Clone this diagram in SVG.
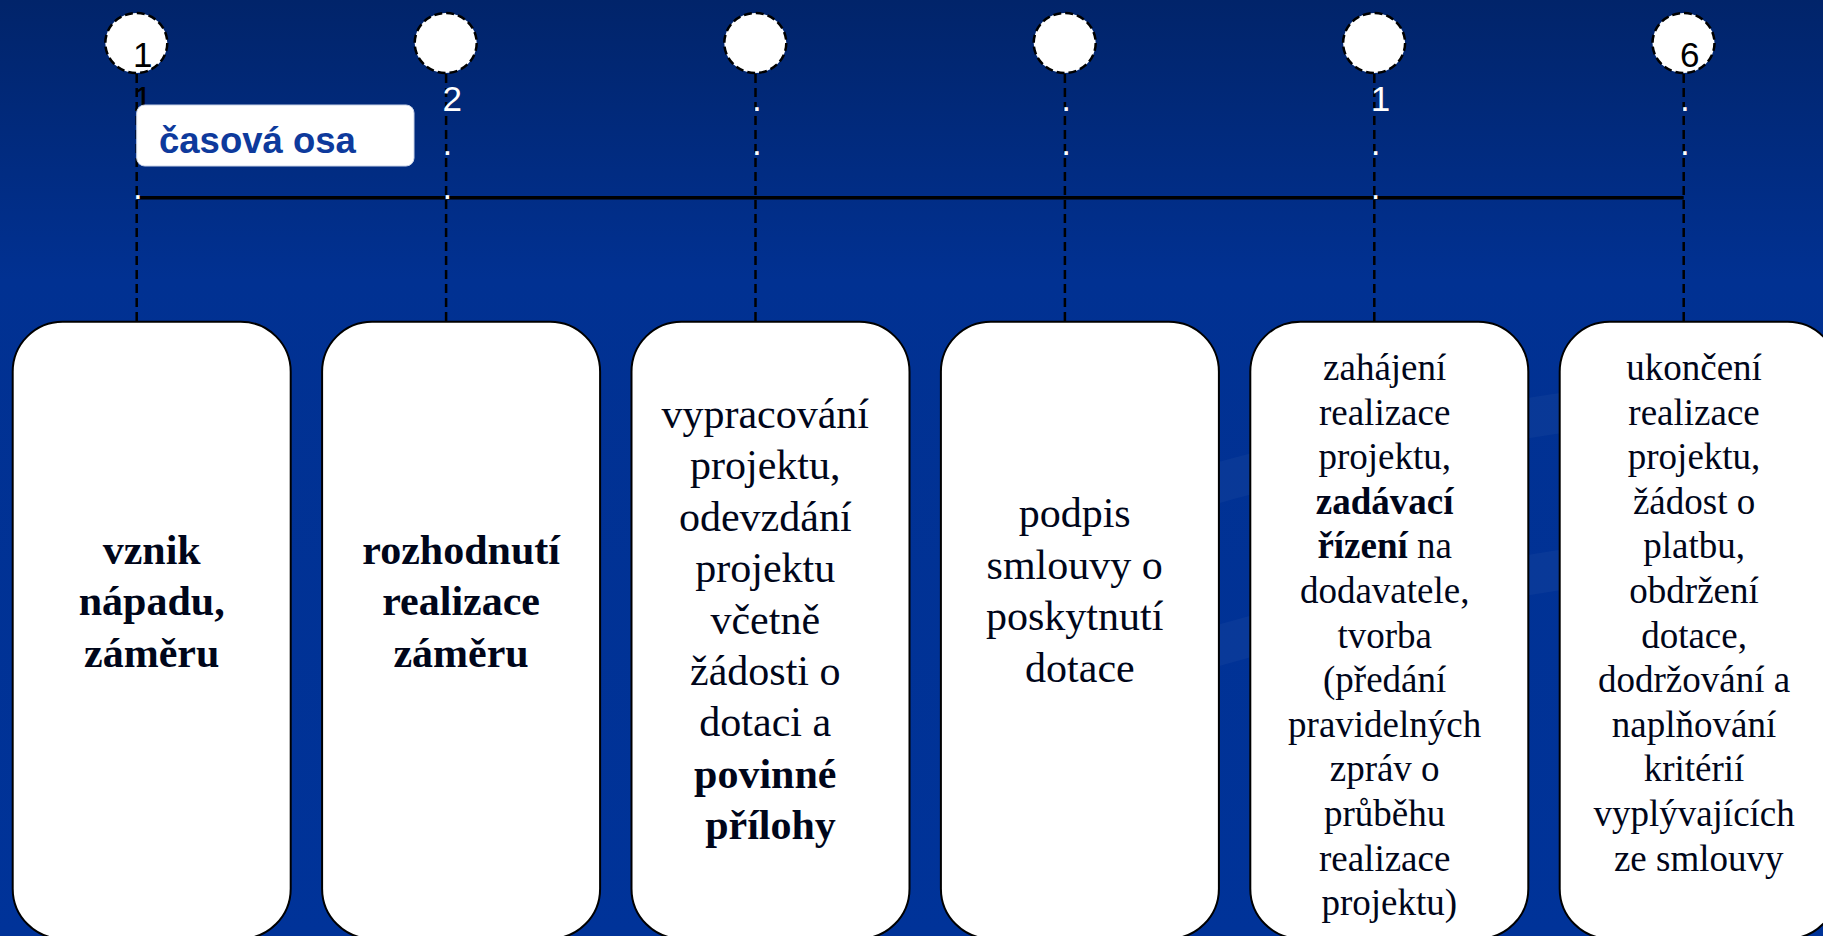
<svg xmlns="http://www.w3.org/2000/svg" width="1823" height="936" viewBox="0 0 1823 936">
  <defs>
    <linearGradient id="bg" x1="0" y1="0" x2="0" y2="1">
      <stop offset="0" stop-color="#01246A"/>
      <stop offset="0.3" stop-color="#013192"/>
      <stop offset="1" stop-color="#003399"/>
    </linearGradient>
    <style>
      .vline { stroke: #000; stroke-width: 2.5; stroke-dasharray: 9 5; fill: none; }
      .axis { stroke: #000; stroke-width: 3.5; fill: none; }
      .dot { fill: #fff; stroke: #000; stroke-width: 2.5; stroke-dasharray: 8 4; }
      .num { font-size: 35px; }
      .box { fill: #fff; stroke: #000; stroke-width: 2; }
      .t42 { font-size: 42px; fill: #00061a; text-anchor: middle; }
      .t37 { font-size: 37px; fill: #00061a; text-anchor: middle; }
      .b { font-weight: bold; }
    </style>
  </defs>

  <rect x="0" y="0" width="1823" height="936" fill="url(#bg)"/>
  <g id="swoosh" fill="none" stroke="#ffffff" stroke-opacity="0.035" stroke-width="40">
    <path d="M1000,560 C1200,470 1450,420 1823,380"/>
    <path d="M1050,700 C1300,610 1550,560 1823,540"/>
  </g>

  <g id="connectors">
    <line class="vline" x1="136.7" y1="74" x2="136.7" y2="321"/>
    <line class="vline" x1="446.1" y1="74" x2="446.1" y2="321"/>
    <line class="vline" x1="755.5" y1="74" x2="755.5" y2="321"/>
    <line class="vline" x1="1064.9" y1="74" x2="1064.9" y2="321"/>
    <line class="vline" x1="1374.3" y1="74" x2="1374.3" y2="321"/>
    <line class="vline" x1="1683.7" y1="74" x2="1683.7" y2="321"/>
    <line class="axis" x1="136.7" y1="197.7" x2="1683.7" y2="197.7"/>
  </g>

  <g id="milestones" style="font-family:'Liberation Sans', Arial, sans-serif">
  <g id="milestone1">
    <ellipse class="dot" cx="136.3" cy="43" rx="31" ry="30"/>
    <text class="num" x="133.1" fill="#000"><tspan y="67">1</tspan><tspan x="133.1" y="111">1</tspan></text>
    <text class="num" x="133.1" y="199" fill="#fff">.</text>
  </g>
  <g id="milestone2">
    <ellipse class="dot" cx="445.7" cy="43" rx="31" ry="30"/>
    <text class="num" fill="#fff"><tspan x="442.5" y="111">2</tspan><tspan x="442.5" y="155">.</tspan><tspan x="442.5" y="199">.</tspan></text>
  </g>
  <g id="milestone3">
    <ellipse class="dot" cx="755.3" cy="43" rx="31" ry="30"/>
    <text class="num" fill="#fff"><tspan x="751.9" y="111">.</tspan><tspan x="751.9" y="155">.</tspan></text>
  </g>
  <g id="milestone4">
    <ellipse class="dot" cx="1064.7" cy="43" rx="31" ry="30"/>
    <text class="num" fill="#fff"><tspan x="1061.3" y="111">.</tspan><tspan x="1061.3" y="155">.</tspan></text>
  </g>
  <g id="milestone5">
    <ellipse class="dot" cx="1374.1" cy="43" rx="31" ry="30"/>
    <text class="num" fill="#fff"><tspan x="1370.7" y="111">1</tspan><tspan x="1370.7" y="155">.</tspan><tspan x="1370.7" y="199">.</tspan></text>
  </g>
  <g id="milestone6">
    <ellipse class="dot" cx="1683.5" cy="43" rx="31" ry="30"/>
    <text class="num" x="1680.1" y="67" fill="#000">6</text>
    <text class="num" fill="#fff"><tspan x="1680.1" y="111">.</tspan><tspan x="1680.1" y="155">.</tspan></text>
  </g>
  </g>

  <g id="label">
    <rect x="136.7" y="105" width="277.3" height="61" rx="8" fill="#fff" stroke="#c9d3e8" stroke-width="1"/>
    <text x="159" y="152.7" style="font-family:'Liberation Sans', Arial, sans-serif" font-size="36.5" font-weight="bold" fill="#0E3A9C">časová osa</text>
  </g>

  <g id="boxes" style="font-family:'Liberation Serif', 'Times New Roman', serif">
  <g id="box1">
    <rect class="box" x="12.7" y="321.7" width="278" height="617" rx="50"/>
    <text class="t42 b"><tspan x="151.7" y="563.5">vznik</tspan><tspan x="151.7" y="615.1">nápadu,</tspan><tspan x="151.7" y="666.7">záměru</tspan></text>
  </g>
  <g id="box2">
    <rect class="box" x="322.1" y="321.7" width="278" height="617" rx="50"/>
    <text class="t42 b"><tspan x="461.1" y="563.5">rozhodnutí</tspan><tspan x="461.1" y="615.1">realizace</tspan><tspan x="461.1" y="666.7">záměru</tspan></text>
  </g>
  <g id="box3">
    <rect class="box" x="631.5" y="321.7" width="278" height="617" rx="50"/>
    <text class="t42">
      <tspan x="770.5" y="428">vypracování</tspan>
      <tspan x="770.5" y="479.4">projektu,</tspan>
      <tspan x="770.5" y="530.8">odevzdání</tspan>
      <tspan x="770.5" y="582.2">projektu</tspan>
      <tspan x="770.5" y="633.6">včetně</tspan>
      <tspan x="770.5" y="685">žádosti o</tspan>
      <tspan x="770.5" y="736.4">dotaci a</tspan>
      <tspan x="770.5" y="787.8" font-weight="bold">povinné</tspan>
      <tspan x="770.5" y="839.2" font-weight="bold">přílohy</tspan>
    </text>
  </g>
  <g id="box4">
    <rect class="box" x="940.9" y="321.7" width="278" height="617" rx="50"/>
    <text class="t42">
      <tspan x="1079.9" y="527">podpis</tspan>
      <tspan x="1079.9" y="578.5">smlouvy o</tspan>
      <tspan x="1079.9" y="630">poskytnutí</tspan>
      <tspan x="1079.9" y="681.5">dotace</tspan>
    </text>
  </g>
  <g id="box5">
    <rect class="box" x="1250.3" y="321.7" width="278" height="617" rx="50"/>
    <text class="t37">
      <tspan x="1389.3" y="380">zahájení</tspan>
      <tspan x="1389.3" y="424.6">realizace</tspan>
      <tspan x="1389.3" y="469.2">projektu,</tspan>
      <tspan x="1389.3" y="513.8" font-weight="bold">zadávací</tspan>
      <tspan x="1389.3" y="558.4"><tspan font-weight="bold">řízení</tspan> na</tspan>
      <tspan x="1389.3" y="603">dodavatele,</tspan>
      <tspan x="1389.3" y="647.6">tvorba</tspan>
      <tspan x="1389.3" y="692.2">(předání</tspan>
      <tspan x="1389.3" y="736.8">pravidelných</tspan>
      <tspan x="1389.3" y="781.4">zpráv o</tspan>
      <tspan x="1389.3" y="826">průběhu</tspan>
      <tspan x="1389.3" y="870.6">realizace</tspan>
      <tspan x="1389.3" y="915.2">projektu)</tspan>
    </text>
  </g>
  <g id="box6">
    <rect class="box" x="1559.7" y="321.7" width="278" height="617" rx="50"/>
    <text class="t37">
      <tspan x="1698.7" y="380">ukončení</tspan>
      <tspan x="1698.7" y="424.6">realizace</tspan>
      <tspan x="1698.7" y="469.2">projektu,</tspan>
      <tspan x="1698.7" y="513.8">žádost o</tspan>
      <tspan x="1698.7" y="558.4">platbu,</tspan>
      <tspan x="1698.7" y="603">obdržení</tspan>
      <tspan x="1698.7" y="647.6">dotace,</tspan>
      <tspan x="1698.7" y="692.2">dodržování a</tspan>
      <tspan x="1698.7" y="736.8">naplňování</tspan>
      <tspan x="1698.7" y="781.4">kritérií</tspan>
      <tspan x="1698.7" y="826">vyplývajících</tspan>
      <tspan x="1698.7" y="870.6">ze smlouvy</tspan>
    </text>
  </g>
  </g>
</svg>
